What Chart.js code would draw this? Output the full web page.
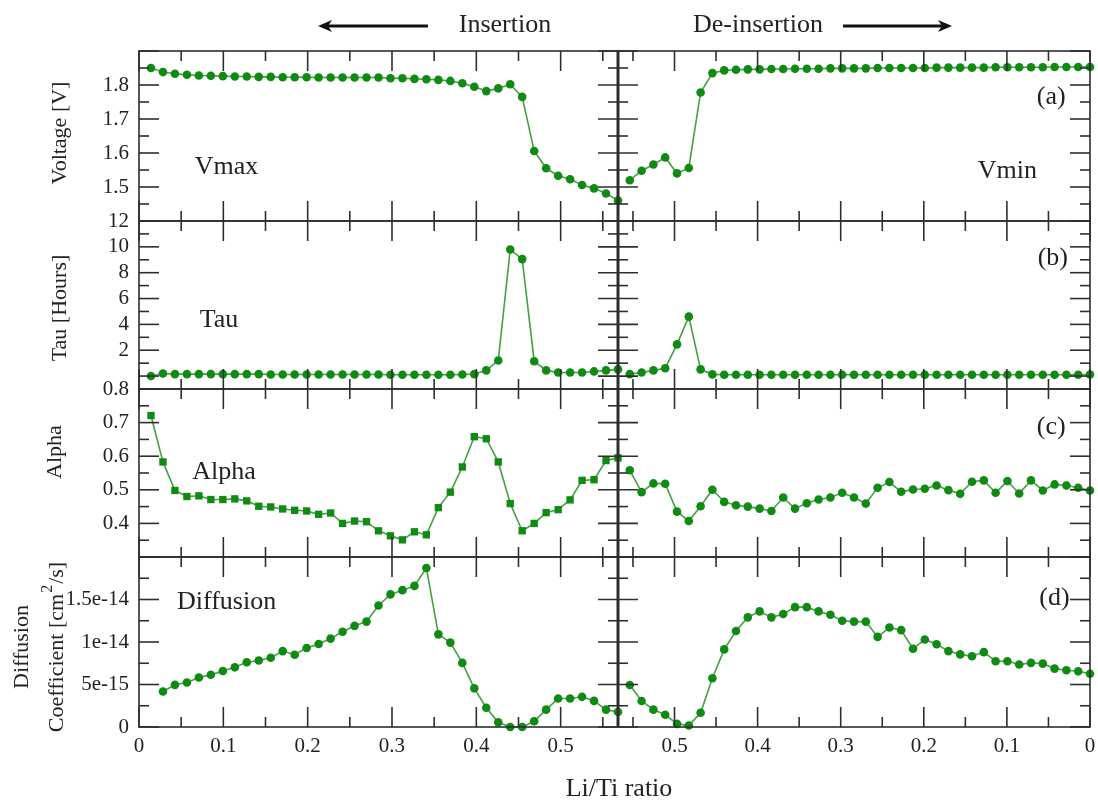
<!DOCTYPE html>
<html>
<head>
<meta charset="utf-8">
<title>Li/Ti ratio: insertion and de-insertion</title>
<script src="https://cdn.jsdelivr.net/npm/chart.js@4.4.1/dist/chart.umd.min.js"></script>
<style>
  html, body { margin: 0; padding: 0; background: #fff; }
  #wrap { position: relative; width: 1098px; height: 805px; }
</style>
</head>
<body>
<div id="wrap"><canvas id="chart" width="1098" height="805"></canvas></div>
<script>
// Li/Ti ratio of each step; insertion runs up, de-insertion runs back down to 0
const liInsert = [0.0142, 0.0284, 0.0426, 0.0568, 0.0710, 0.0852, 0.0994, 0.1136, 0.1278, 0.1420,
  0.1562, 0.1704, 0.1846, 0.1988, 0.2130, 0.2272, 0.2414, 0.2556, 0.2698, 0.2840,
  0.2982, 0.3124, 0.3266, 0.3408, 0.3550, 0.3692, 0.3834, 0.3976, 0.4118, 0.4260,
  0.4402, 0.4544, 0.4686, 0.4828, 0.4970, 0.5112, 0.5254, 0.5396, 0.5538, 0.5680];
const liDeinsert = [0.5538, 0.5396, 0.5254, 0.5112, 0.4970, 0.4828, 0.4686, 0.4544, 0.4402, 0.4260,
  0.4118, 0.3976, 0.3834, 0.3692, 0.3550, 0.3408, 0.3266, 0.3124, 0.2982, 0.2840,
  0.2698, 0.2556, 0.2414, 0.2272, 0.2130, 0.1988, 0.1846, 0.1704, 0.1562, 0.1420,
  0.1278, 0.1136, 0.0994, 0.0852, 0.0710, 0.0568, 0.0426, 0.0284, 0.0142, 0];

// (a) voltage [V]
const vmax = [1.850, 1.838, 1.833, 1.830, 1.828, 1.827, 1.826, 1.825, 1.825, 1.824,
  1.824, 1.823, 1.823, 1.823, 1.822, 1.822, 1.822, 1.822, 1.822, 1.822,
  1.820, 1.820, 1.818, 1.817, 1.815, 1.812, 1.805, 1.795, 1.782, 1.790,
  1.802, 1.765, 1.606, 1.555, 1.533, 1.523, 1.506, 1.496, 1.481, 1.460];
const vmin = [1.520, 1.548, 1.566, 1.587, 1.540, 1.556, 1.778, 1.835, 1.843, 1.845,
  1.846, 1.846, 1.847, 1.847, 1.848, 1.848, 1.848, 1.849, 1.849, 1.849,
  1.849, 1.850, 1.850, 1.850, 1.850, 1.850, 1.851, 1.851, 1.851, 1.851,
  1.851, 1.852, 1.852, 1.852, 1.852, 1.852, 1.853, 1.853, 1.853, 1.853];

// (b) tau [hours]
const tauIns = [0.00, 0.20, 0.15, 0.15, 0.15, 0.15, 0.15, 0.15, 0.15, 0.15,
  0.12, 0.12, 0.12, 0.12, 0.12, 0.12, 0.12, 0.12, 0.12, 0.12,
  0.10, 0.10, 0.10, 0.10, 0.10, 0.10, 0.12, 0.15, 0.44, 1.20,
  9.80, 9.05, 1.15, 0.44, 0.28, 0.28, 0.28, 0.36, 0.44, 0.52];
const tauDe = [0.15, 0.28, 0.44, 0.60, 2.45, 4.60, 0.52, 0.13, 0.10, 0.10,
  0.10, 0.10, 0.10, 0.10, 0.10, 0.10, 0.10, 0.10, 0.10, 0.10,
  0.10, 0.10, 0.10, 0.10, 0.10, 0.10, 0.10, 0.10, 0.10, 0.10,
  0.10, 0.10, 0.10, 0.10, 0.10, 0.10, 0.10, 0.10, 0.10, 0.12];

// (c) alpha
const alphaIns = [0.721, 0.583, 0.498, 0.480, 0.482, 0.471, 0.471, 0.473, 0.467, 0.451,
  0.449, 0.443, 0.439, 0.437, 0.427, 0.431, 0.400, 0.407, 0.405, 0.378,
  0.363, 0.351, 0.375, 0.366, 0.447, 0.493, 0.568, 0.658, 0.652, 0.583,
  0.459, 0.378, 0.400, 0.432, 0.441, 0.470, 0.528, 0.530, 0.587, 0.595];
const alphaDe = [0.558, 0.493, 0.519, 0.518, 0.435, 0.407, 0.451, 0.500, 0.464, 0.454,
  0.450, 0.444, 0.437, 0.477, 0.444, 0.460, 0.471, 0.477, 0.491, 0.477,
  0.459, 0.506, 0.523, 0.494, 0.501, 0.503, 0.513, 0.499, 0.488, 0.524,
  0.528, 0.491, 0.526, 0.489, 0.528, 0.498, 0.516, 0.513, 0.506, 0.498];

// (d) diffusion coefficient [cm^2/s]
const diffIns = [null, 4.17e-15, 4.96e-15, 5.24e-15, 5.83e-15, 6.15e-15, 6.59e-15, 7.02e-15, 7.62e-15, 7.82e-15,
  8.14e-15, 8.93e-15, 8.50e-15, 9.29e-15, 9.76e-15, 1.04e-14, 1.12e-14, 1.19e-14, 1.24e-14, 1.43e-14,
  1.56e-14, 1.61e-14, 1.66e-14, 1.87e-14, 1.09e-14, 9.93e-15, 7.54e-15, 4.55e-15, 2.27e-15, 5.6e-16,
  0, 0, 6.8e-16, 2.04e-15, 3.36e-15, 3.36e-15, 3.55e-15, 3.07e-15, 2.04e-15, 1.76e-15];
const diffDe = [4.94e-15, 3.06e-15, 2.04e-15, 1.44e-15, 3.7e-16, 1.7e-16, 1.68e-15, 5.74e-15, 9.13e-15, 1.13e-14,
  1.29e-14, 1.36e-14, 1.29e-14, 1.33e-14, 1.41e-14, 1.41e-14, 1.36e-14, 1.32e-14, 1.25e-14, 1.24e-14,
  1.24e-14, 1.06e-14, 1.17e-14, 1.14e-14, 9.20e-15, 1.03e-14, 9.73e-15, 8.93e-15, 8.54e-15, 8.33e-15,
  8.81e-15, 7.74e-15, 7.74e-15, 7.35e-15, 7.54e-15, 7.46e-15, 6.87e-15, 6.67e-15, 6.55e-15, 6.27e-15];

// axis ticks and their labels
const ratioTicks = [0, 0.1, 0.2, 0.3, 0.4, 0.5];
const ratioLabels = ['0', '0.1', '0.2', '0.3', '0.4', '0.5'];
const voltageTicks = [1.4, 1.5, 1.6, 1.7, 1.8, 1.9];
const voltageLabels = ['', '1.5', '1.6', '1.7', '1.8', ''];
const tauTicks = [0, 2, 4, 6, 8, 10, 12];
const tauLabels = ['', '2', '4', '6', '8', '10', '12'];
const alphaTicks = [0.3, 0.4, 0.5, 0.6, 0.7, 0.8];
const alphaLabels = ['', '0.4', '0.5', '0.6', '0.7', '0.8'];
const diffTicks = [0, 5e-15, 1e-14, 1.5e-14, 2e-14];
const diffLabels = ['0', '5e-15', '1e-14', '1.5e-14', ''];

const RATIO_MAX = 0.568;
const serif = '"Liberation Serif", "DejaVu Serif", serif';
const ink = '#222';
const frameInk = '#2e2e2e';
const markerGreen = '#0f8a12';
const lineGreen = '#43a043';

// y panels, top to bottom
const panels = [
  { id: 'yV', min: 1.4, max: 1.9, ticks: voltageTicks, labels: voltageLabels, minor: 0.05, weight: 170 },
  { id: 'yTau', min: -1, max: 12, ticks: tauTicks, labels: tauLabels, minor: 1, weight: 168 },
  { id: 'yAlpha', min: 0.3, max: 0.8, ticks: alphaTicks, labels: alphaLabels, minor: 0.05, weight: 168 },
  { id: 'yD', min: 0, max: 2e-14, ticks: diffTicks, labels: diffLabels, minor: 2.5e-15, weight: 170 }
];

function tickFont() { return { family: serif, size: 21 }; }

function yScale(p) {
  return {
    type: 'linear', position: 'left', stack: 'panels', stackWeight: p.weight,
    min: p.min, max: p.max,
    afterBuildTicks: s => { s.ticks = p.ticks.map(v => ({ value: v })); },
    afterFit: s => { s.width = 139; s.paddingTop = 0; s.paddingBottom = 0; },
    grid: { display: false, drawTicks: false },
    border: { display: false },
    ticks: { autoSkip: false, padding: 10, color: ink, font: tickFont(), callback: (v, i) => p.labels[i] }
  };
}

function xScale(reverse, weight) {
  return {
    type: 'linear', position: 'bottom', stack: 'ratio', stackWeight: weight,
    min: 0, max: RATIO_MAX, reverse,
    afterBuildTicks: s => { s.ticks = ratioTicks.map(v => ({ value: v })); },
    afterFit: s => { s.height = 78; s.paddingLeft = 0; s.paddingRight = 0; },
    grid: { display: false, drawTicks: false },
    border: { display: false },
    ticks: { autoSkip: false, maxRotation: 0, padding: 7, color: ink, font: tickFont(), callback: (v, i) => ratioLabels[i] }
  };
}

function series(xs, ys, xAxisID, yAxisID, pointStyle) {
  const square = pointStyle === 'rect';
  return {
    data: xs.map((x, i) => ({ x, y: ys[i] })),
    xAxisID, yAxisID,
    borderColor: lineGreen, borderWidth: 1.6,
    backgroundColor: markerGreen,
    pointStyle, pointRadius: square ? 5.2 : 4.3, pointBorderWidth: 0,
    pointBackgroundColor: markerGreen,
    tension: 0, clip: false
  };
}

// inward tick marks: majors at the listed values, minors on the finer step
function tickMarks(majors, step, min, max) {
  const out = majors.map(v => [v, 20]);
  const n = Math.floor((max - min) / step + 1e-6);
  for (let i = 0; i <= n; i++) {
    const v = min + i * step;
    if (!majors.some(m => Math.abs(m - v) < step / 10)) out.push([v, 10]);
  }
  return out;
}

function seg(ctx, x0, y0, x1, y1) {
  ctx.beginPath(); ctx.moveTo(x0, y0); ctx.lineTo(x1, y1); ctx.stroke();
}

const panelFrame = {
  id: 'panelFrame',
  afterDatasetsDraw(chart) {
    const ctx = chart.ctx;
    const { left, right, top, bottom } = chart.chartArea;
    const xIns = chart.scales.xIns, xDe = chart.scales.xDe;
    const mid = xIns.right;
    const xMarks = tickMarks(ratioTicks, 0.05, 0, RATIO_MAX);
    ctx.save();
    ctx.strokeStyle = frameInk;
    ctx.lineWidth = 1.6;
    for (const p of panels) {
      const ys = chart.scales[p.id];
      ctx.strokeRect(left, ys.top, right - left, ys.bottom - ys.top);
      for (const [v, len] of tickMarks(p.ticks, p.minor, p.min, p.max)) {
        const y = ys.getPixelForValue(v);
        seg(ctx, left, y, left + len, y);
        seg(ctx, mid - len, y, mid + len, y);
        seg(ctx, right - len, y, right, y);
      }
      for (const xs of [xIns, xDe]) {
        for (const [v, len] of xMarks) {
          const x = xs.getPixelForValue(v);
          seg(ctx, x, ys.top, x, ys.top + len);
          seg(ctx, x, ys.bottom - len, x, ys.bottom);
        }
      }
    }
    ctx.lineWidth = 3;
    seg(ctx, mid, top, mid, bottom);
    ctx.restore();
  }
};

// text inside the panels, placed on the data scales
const panelNotes = [
  ['Vmax', 'xIns', 'yV', 0.066, 1.557],
  ['Vmin', 'xDe', 'yV', 0.135, 1.547],
  ['(a)', 'xDe', 'yV', 0.064, 1.763],
  ['Tau', 'xIns', 'yTau', 0.072, 4.34],
  ['(b)', 'xDe', 'yTau', 0.063, 9.15],
  ['Alpha', 'xIns', 'yAlpha', 0.063, 0.551],
  ['(c)', 'xDe', 'yAlpha', 0.064, 0.685],
  ['Diffusion', 'xIns', 'yD', 0.045, 1.47e-14],
  ['(d)', 'xDe', 'yD', 0.061, 1.51e-14]
];

function vtext(ctx, text, x, y) {
  ctx.save();
  ctx.translate(x, y);
  ctx.rotate(-Math.PI / 2);
  ctx.textAlign = 'center';
  ctx.textBaseline = 'middle';
  ctx.fillText(text, 0, 0);
  ctx.restore();
}

function arrow(ctx, x0, x1, y) {
  const dir = Math.sign(x1 - x0);
  ctx.lineWidth = 3;
  seg(ctx, x0, y, x1 - dir * 10, y);
  ctx.beginPath();
  ctx.moveTo(x1, y);
  ctx.lineTo(x1 - dir * 14, y - 6);
  ctx.lineTo(x1 - dir * 10, y);
  ctx.lineTo(x1 - dir * 14, y + 6);
  ctx.closePath();
  ctx.fill();
}

const annotations = {
  id: 'annotations',
  afterDraw(chart) {
    const ctx = chart.ctx;
    const s = chart.scales;
    ctx.save();
    ctx.fillStyle = ink;
    ctx.strokeStyle = '#111';

    ctx.font = '26px ' + serif;
    ctx.textBaseline = 'middle';
    ctx.textAlign = 'left';
    for (const [text, xId, yId, x, y] of panelNotes) {
      ctx.fillText(text, s[xId].getPixelForValue(x), s[yId].getPixelForValue(y));
    }

    // direction header
    ctx.textAlign = 'center';
    ctx.fillText('Insertion', 505, 25);
    ctx.fillText('De-insertion', 758, 25);
    ctx.fillStyle = '#111';
    arrow(ctx, 428, 318, 26);
    arrow(ctx, 843, 952, 26);
    ctx.fillStyle = ink;

    ctx.fillText('Li/Ti ratio', 619, 789);

    // y axis titles
    ctx.font = '22px ' + serif;
    const mid = id => (s[id].top + s[id].bottom) / 2;
    vtext(ctx, 'Voltage [V]', 60, mid('yV') - 3);
    vtext(ctx, 'Tau [Hours]', 60, mid('yTau') + 3);
    vtext(ctx, 'Alpha', 55, mid('yAlpha') - 21);
    vtext(ctx, 'Diffusion', 22, mid('yD') + 5);

    // second line with a raised exponent
    ctx.save();
    ctx.translate(57, mid('yD') + 5);
    ctx.rotate(-Math.PI / 2);
    ctx.textBaseline = 'middle';
    ctx.textAlign = 'left';
    const a = 'Coefficient [cm', b = '/s]';
    ctx.font = '22px ' + serif;
    const wa = ctx.measureText(a).width, wb = ctx.measureText(b).width;
    ctx.font = '16px ' + serif;
    const ws = ctx.measureText('2').width + 2;
    let x = -(wa + ws + wb) / 2;
    ctx.font = '22px ' + serif;
    ctx.fillText(a, x, 0);
    ctx.font = '16px ' + serif;
    ctx.fillText('2', x + wa + 1, -9);
    ctx.font = '22px ' + serif;
    ctx.fillText(b, x + wa + ws, 0);
    ctx.restore();

    ctx.restore();
  }
};

// left-hand boxes are stacked bottom-up, so the lowest panel goes in first
const scales = { xIns: xScale(false, 479), xDe: xScale(true, 472) };
for (const p of panels.slice().reverse()) scales[p.id] = yScale(p);

new Chart(document.getElementById('chart'), {
  type: 'line',
  data: {
    datasets: [
      series(liInsert, vmax, 'xIns', 'yV', 'circle'),
      series(liDeinsert, vmin, 'xDe', 'yV', 'circle'),
      series(liInsert, tauIns, 'xIns', 'yTau', 'circle'),
      series(liDeinsert, tauDe, 'xDe', 'yTau', 'circle'),
      series(liInsert, alphaIns, 'xIns', 'yAlpha', 'rect'),
      series(liDeinsert, alphaDe, 'xDe', 'yAlpha', 'circle'),
      series(liInsert, diffIns, 'xIns', 'yD', 'circle'),
      series(liDeinsert, diffDe, 'xDe', 'yD', 'circle')
    ]
  },
  options: {
    responsive: false,
    animation: false,
    devicePixelRatio: 1,
    layout: { padding: { top: 51, right: 8, bottom: 0, left: 0 } },
    scales,
    plugins: { legend: { display: false }, tooltip: { enabled: false } }
  },
  plugins: [panelFrame, annotations]
});
</script>
</body>
</html>
